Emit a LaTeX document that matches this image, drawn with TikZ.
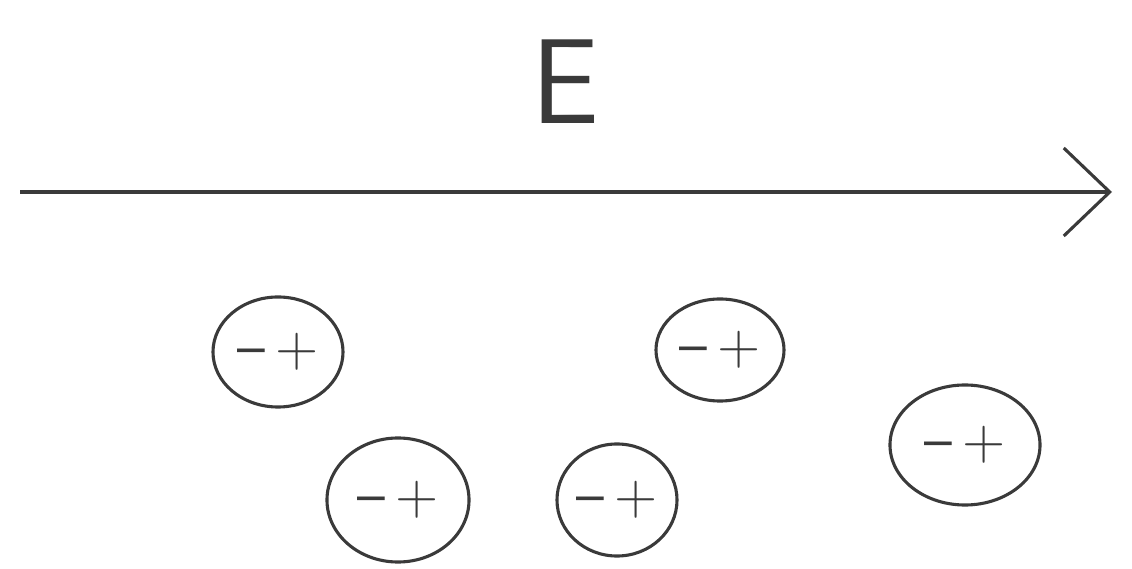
\documentclass[tikz,border=0pt]{standalone}
\usepackage{tikz}
\usetikzlibrary{positioning,arrows.meta,shapes.geometric}
\usepackage{xcolor}
\definecolor{lapiz}{HTML}{3A3A3A}
\tikzset{
  dipolo/.style={draw=lapiz, ellipse, line width=2.2pt, inner sep=0pt,
                 text=lapiz, font=\sffamily\fontsize{42}{42}\selectfont},
}
\newcommand{\carga}{\textendash\,+}

\begin{document}
\begin{tikzpicture}[x=0.025cm, y=-0.025cm, line width=2.2pt]
        \useasboundingbox (0,0) rectangle (1132,569);
        % campo
        \node[lapiz, font=\sffamily\fontsize{86}{86}\selectfont] (efield) at (565,82) {E};
        \coordinate (inicio) at (20,192);
        \coordinate (punta) at (1112,192);
        \draw[lapiz, -{Straight Barb[length=1.15cm, width=2.2cm, line width=2.2pt]}] (inicio) -- (punta);
        % moleculas polarizadas
        \node[dipolo, minimum width=3.25cm, minimum height=2.75cm] (mol1) at (278,352) {\carga};
        \node[dipolo, minimum width=3.2cm, minimum height=2.55cm] (mol2) at (720,350) {\carga};
        \node[dipolo, minimum width=3.75cm, minimum height=3.0cm] (mol3) at (965,445) {\carga};
        \node[dipolo, minimum width=3.55cm, minimum height=3.1cm] (mol4) at (398,500) {\carga};
        \node[dipolo, minimum width=3.0cm, minimum height=2.8cm] (mol5) at (617,500) {\carga};
      \end{tikzpicture}
\end{document}
